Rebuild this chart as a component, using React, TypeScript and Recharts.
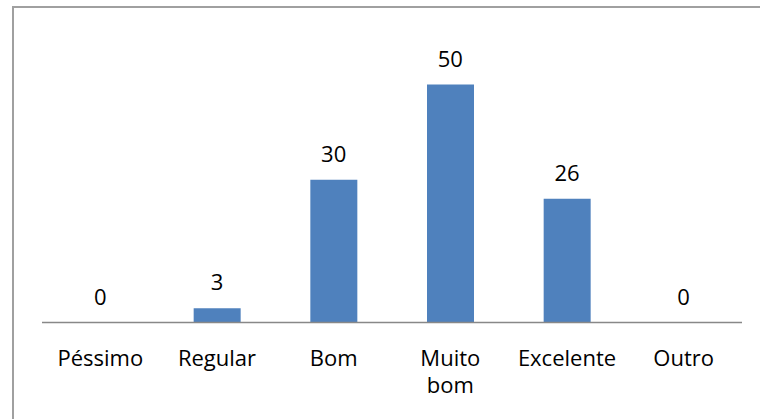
import React from 'react';
import { ComposedChart, Bar, Line, XAxis, YAxis, LabelList } from 'recharts';

const categories = ['Péssimo', 'Regular', 'Bom', 'Muito bom', 'Excelente', 'Outro'];
const values = [0, 3, 30, 50, 26, 0];

const data = categories.map((c, i) => ({ name: c, value: values[i] }));

const FONT = '"Open Sans", Lato, sans-serif';
const FS = 22;

const Tick = (props: any) => {
  const { x, y, payload } = props;
  const words = String(payload.value).split(' ');
  return (
    <text x={x} y={y} textAnchor="middle" fontFamily={FONT} fontSize={FS} fill="#000">
      {words.map((w: string, i: number) => (
        <tspan key={i} x={x} y={y + 35 + i * 27}>{w}</tspan>
      ))}
    </text>
  );
};

export default function App() {
  return (
    <div style={{ position: 'absolute', left: 0, top: 0, width: 760, height: 419, overflow: 'hidden', background: '#fff' }}>
      <div style={{ position: 'absolute', left: 12, top: 6, width: 760, height: 420, borderTop: '2px solid #a0a0a0', borderLeft: '2px solid #a0a0a0' }} />
      <div style={{ position: 'absolute', left: 0, top: 0 }}>
        <ComposedChart width={760} height={419} data={data} margin={{ top: 37, right: 18, bottom: 36.5, left: 42 }} barCategoryGap="30%">
          <XAxis dataKey="name" height={60} axisLine={{ stroke: '#888', strokeWidth: 1.5 }} tickLine={false} tick={<Tick />} interval={0} />
          <YAxis hide domain={[0, 60]} />
          <Bar dataKey="value" fill="#4f81bd" isAnimationActive={false} />
          <Line dataKey="value" stroke="none" dot={false} activeDot={false} isAnimationActive={false}>
            <LabelList dataKey="value" position="top" offset={18} fontFamily={FONT} fontSize={FS} fill="#000" />
          </Line>
        </ComposedChart>
      </div>
    </div>
  );
}
